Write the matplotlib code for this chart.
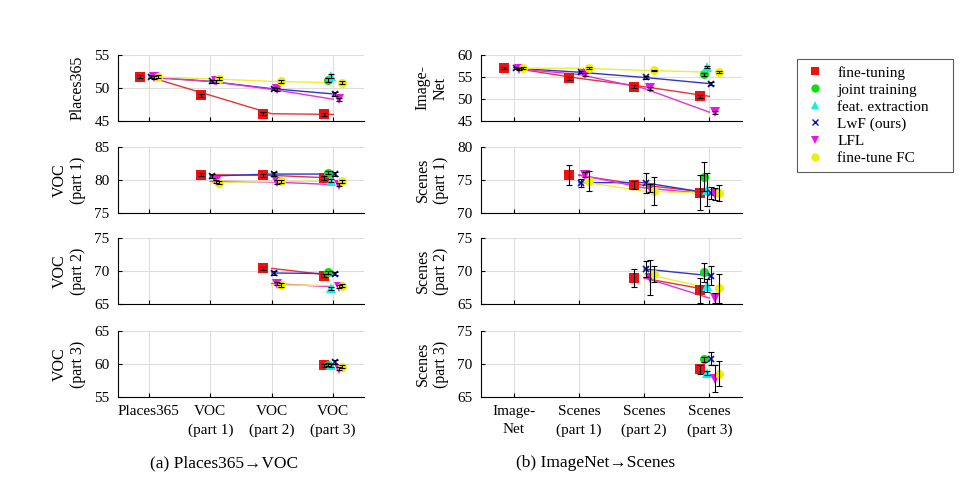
import numpy as np
import matplotlib
matplotlib.use("Agg")
import matplotlib.pyplot as plt
from matplotlib.lines import Line2D

plt.rcParams['font.family'] = ['Liberation Serif', 'DejaVu Serif']
plt.rcParams['font.size'] = 11

nan = np.nan

# x tick labels / row labels
tasks_a = ["Places365", "VOC\n(part 1)", "VOC\n(part 2)", "VOC\n(part 3)"]
tasks_b = ["Image-\nNet", "Scenes\n(part 1)", "Scenes\n(part 2)", "Scenes\n(part 3)"]
rows_a = ["Places365", "VOC\n(part 1)", "VOC\n(part 2)", "VOC\n(part 3)"]
rows_b = ["Image-\nNet", "Scenes\n(part 1)", "Scenes\n(part 2)", "Scenes\n(part 3)"]
yticks_a = [[45, 50, 55], [75, 80, 85], [65, 70, 75], [55, 60, 65]]
yticks_b = [[45, 50, 55, 60], [70, 75, 80], [65, 70, 75], [65, 70, 75]]

methods = ["fine-tuning", "joint training", "feat. extraction", "LwF (ours)", "LFL", "fine-tune FC"]

# (a) Places365 -> VOC, one row per evaluated task, one column per training stage
a_finetune = [[51.7, 48.9, 46.1, 46.0], [nan, 80.8, 80.7, 80.3], [nan, nan, 70.4, 69.3], [nan, nan, nan, 59.8]]
a_joint = [[nan, nan, nan, 51.2], [nan, nan, nan, 81.1], [nan, nan, nan, 69.8], [nan, nan, nan, 59.9]]
a_feat = [[nan, nan, nan, 51.8], [nan, nan, nan, 79.9], [nan, nan, nan, 67.4], [nan, nan, nan, 59.8]]
a_lwf = [[51.7, 51.0, 49.9, 49.1], [nan, 80.6, 80.9, 80.9], [nan, nan, 69.7, 69.6], [nan, nan, nan, 60.3]]
a_lfl = [[51.6, 51.0, 49.8, 48.3], [nan, 79.8, 79.7, 79.3], [nan, nan, 68.1, 67.6], [nan, nan, nan, 59.3]]
a_fc = [[51.7, 51.4, 51.0, 50.8], [nan, 79.6, 79.8, 79.8], [nan, nan, 67.9, 67.8], [nan, nan, nan, 59.6]]
a_err = 0.25

# (b) ImageNet -> Scenes
b_finetune = [[57.0, 54.7, 52.8, 50.6], [nan, 75.7, 74.2, 73.1], [nan, nan, 68.9, 67.1], [nan, nan, nan, 69.2]]
b_joint = [[nan, nan, nan, 55.6], [nan, nan, nan, 75.5], [nan, nan, nan, 69.8], [nan, nan, nan, 70.7]]
b_feat = [[nan, nan, nan, 57.2], [nan, nan, nan, 73.5], [nan, nan, nan, 67.8], [nan, nan, nan, 68.6]]
b_lwf = [[57.0, 56.1, 54.9, 53.5], [nan, 74.6, 74.6, 73.0], [nan, nan, 70.3, 69.3], [nan, nan, nan, 70.8]]
b_lfl = [[56.9, 55.6, 52.4, 47.0], [nan, 75.8, 73.8, 72.9], [nan, nan, 69.0, 65.9], [nan, nan, nan, 67.8]]
b_fc = [[57.0, 57.0, 56.5, 56.1], [nan, 74.8, 73.3, 73.0], [nan, nan, 69.6, 67.4], [nan, nan, nan, 68.5]]

b_finetune_err = [[0.2, 0.3, 0.3, 0.3], [0, 1.5, 0.6, 2.7], [0, 0, 1.4, 1.9], [0, 0, 0, 0.7]]
b_joint_err = [[0, 0, 0, 0.3], [0, 0, 0, 2.2], [0, 0, 0, 1.4], [0, 0, 0, 0.4]]
b_feat_err = [[0, 0, 0, 0.2], [0, 0, 0, 2.5], [0, 0, 0, 1.0], [0, 0, 0, 0.3]]
b_lwf_err = [[0.2, 0.3, 0.3, 0.3], [0, 0.6, 1.5, 0.9], [0, 0, 1.2, 1.4], [0, 0, 0, 1.0]]
b_lfl_err = [[0.2, 0.3, 0.3, 0.3], [0, 0.4, 0.6, 0.9], [0, 0, 2.7, 0.7], [0, 0, 0, 2.1]]
b_fc_err = [[0.2, 0.2, 0.2, 0.2], [0, 1.5, 2.1, 1.2], [0, 0, 1.2, 2.2], [0, 0, 0, 1.9]]

colors = ['#ee1111', '#11dd11', '#11eeee', '#1111aa', '#ee11ee', '#eeee11']
line_colors = ['#e83333', None, None, '#3333cc', '#e033e0', '#eeee33']
markers = ['s', 'o', '^', 'x', 'v', 'o']
offsets = [-0.15, -0.09, -0.03, 0.03, 0.09, 0.15]

fig = plt.figure(figsize=(9.68, 4.78), dpi=100)

col_left = [118 / 968, 481 / 968]
col_width = [246 / 968, 261 / 968]
row_tops = [55, 147, 238, 331]
row_h = 66


def draw_panel(ax, series, errs, yticks, ylabel, xlabels, last):
    x = np.arange(4)
    for i, (vals, err) in enumerate(zip(series, errs)):
        vals = np.array(vals, dtype=float)
        err = np.broadcast_to(np.array(err, dtype=float), vals.shape)
        ok = ~np.isnan(vals)
        if line_colors[i] is not None and ok.sum() > 1:
            ax.plot(x[ok], vals[ok], color=line_colors[i], lw=1.0, zorder=2)
        ms = 6.5 if markers[i] != 'x' else 5
        ax.plot(x[ok] + offsets[i], vals[ok], linestyle='none', marker=markers[i],
                color=colors[i], markersize=ms, markeredgewidth=1.2 if markers[i] == 'x' else 0,
                zorder=3)
        ax.errorbar(x[ok] + offsets[i], vals[ok], yerr=err[ok], fmt='none', ecolor='k',
                    elinewidth=0.8, capsize=2, capthick=0.8, zorder=4)
    ax.set_xlim(-0.5, 3.5)
    ax.set_ylim(yticks[0], yticks[-1])
    ax.set_yticks(yticks)
    ax.set_xticks(x)
    if last:
        ax.set_xticklabels(xlabels, linespacing=1.5)
    else:
        ax.set_xticklabels([])
    ax.grid(True, color='#dddddd', lw=0.8, zorder=0)
    ax.set_axisbelow(True)
    ax.spines['top'].set_visible(False)
    ax.spines['right'].set_visible(False)
    ax.tick_params(direction='in', length=3, pad=6)
    ax.set_ylabel(ylabel, labelpad=6, linespacing=1.2, fontsize=11.5)


all_a = [a_finetune, a_joint, a_feat, a_lwf, a_lfl, a_fc]
all_b = [b_finetune, b_joint, b_feat, b_lwf, b_lfl, b_fc]
all_b_err = [b_finetune_err, b_joint_err, b_feat_err, b_lwf_err, b_lfl_err, b_fc_err]

for r in range(4):
    bottom = 1 - (row_tops[r] + row_h) / 478
    h = row_h / 478
    ax = fig.add_axes([col_left[0], bottom, col_width[0], h])
    draw_panel(ax, [m[r] for m in all_a], [a_err] * 6, yticks_a[r], rows_a[r], tasks_a, r == 3)
    ax = fig.add_axes([col_left[1], bottom, col_width[1], h])
    draw_panel(ax, [m[r] for m in all_b], [e[r] for e in all_b_err], yticks_b[r], rows_b[r], tasks_b, r == 3)

fig.text(0.231, 0.031, "(a) Places365\u2192VOC", ha='center', va='center', fontsize=12.5)
fig.text(0.615, 0.031, "(b) ImageNet\u2192Scenes", ha='center', va='center', fontsize=12.5)

handles = [Line2D([], [], linestyle='none', marker=markers[i], color=colors[i],
                  markersize=6 if markers[i] != 'x' else 5,
                  markeredgewidth=1.0 if markers[i] == 'x' else 0) for i in range(6)]
leg = fig.legend(handles, methods, loc='upper left',
                 bbox_to_anchor=(797 / 968, 1 - 172 / 478, 156 / 968, 113 / 478),
                 mode='expand', frameon=True, fancybox=False, edgecolor='#333333',
                 fontsize=11, handlelength=1.4, handletextpad=0.8, labelspacing=0.22,
                 borderpad=0.45, borderaxespad=0)
leg.get_frame().set_linewidth(0.8)

fig.savefig("out.png", dpi=100)
